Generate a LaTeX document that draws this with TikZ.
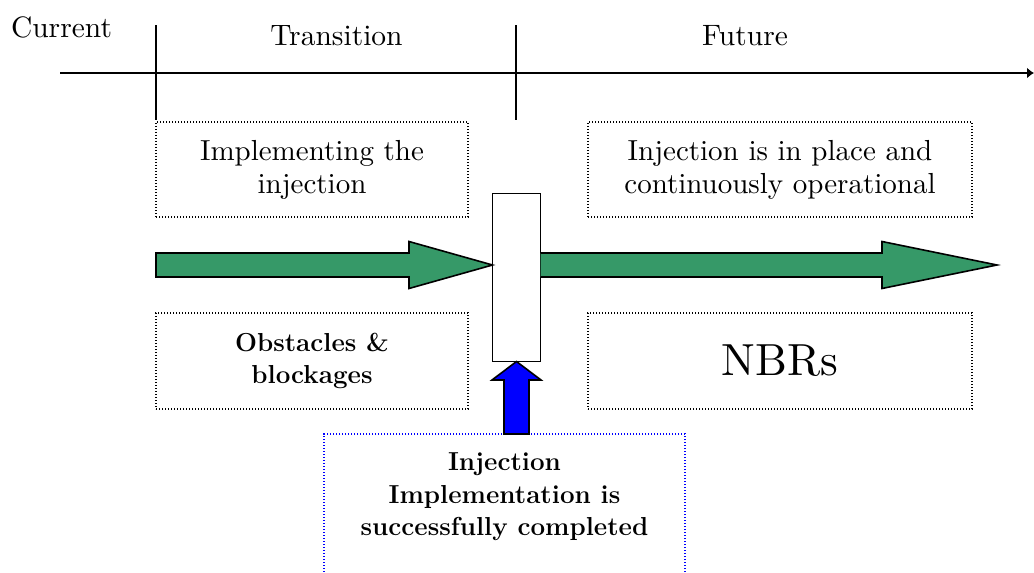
\documentclass[tikz,border=0pt]{standalone}
\usepackage{fontspec}
\setmainfont{lmroman10-regular.otf}[BoldFont=lmroman12-bold.otf]
\usetikzlibrary{arrows.meta,calc}
\definecolor{flowgreen}{RGB}{54,153,104}
\definecolor{pushblue}{RGB}{0,0,255}
\begin{document}
\begin{tikzpicture}[x=1pt,y=-1pt,
  every node/.style={inner sep=0pt,outer sep=0pt},
  lbl/.style={font=\fontsize{29.5}{33}\selectfont},
  boldlbl/.style={font=\fontsize{26}{32.5}\selectfont\bfseries,align=center},
  dotbox/.style={draw=black,line width=1.4pt,dash pattern=on 1.4pt off 1.6pt,
    rectangle,align=center,font=\fontsize{29}{33}\selectfont},
  solidline/.style={line width=1.8pt,draw=black},
  blockarrow/.style={line width=1.6pt,draw=black,line join=miter}]
\useasboundingbox (0,0) rectangle (1034,573);
\clip (0,0) rectangle (1034,573);

% timeline and phase labels
\coordinate (tstart) at (60,73);
\coordinate (tend) at (1034,73);
\draw[solidline,-{Latex[length=7pt,width=11pt]}] (tstart) -- (tend);
\coordinate (tickA top) at (156,25);
\coordinate (tickA bot) at (156,120);
\coordinate (tickB top) at (516,25);
\coordinate (tickB bot) at (516,120);
\draw[solidline] (tickA top) -- (tickA bot);
\draw[solidline] (tickB top) -- (tickB bot);
\node[lbl,anchor=base] (current) at (61.5,37) {Current};
\node[lbl,anchor=base] (transition) at (336.5,45) {Transition};
\node[lbl,anchor=base] (future) at (745,45) {Future};

% description boxes
\node[dotbox,minimum width=312,minimum height=95] (impl) at (312,169.5)
  {Implementing the\\injection};
\node[dotbox,minimum width=384,minimum height=95] (inplace) at (780,169.5)
  {Injection is in place and\\continuously operational};
\node[dotbox,minimum width=312,minimum height=96,font=\fontsize{26}{32.5}\selectfont\bfseries] (obst) at (312,361)
  {Obstacles \&\\blockages};
\node[dotbox,minimum width=384,minimum height=96,font=\fontsize{45}{50}\selectfont] (nbr) at (780,361)
  {NBRs};

% milestone gate
\node[draw=black,line width=1.6pt,fill=white,minimum width=48,minimum height=168] (gate) at (516.5,277.5) {};

% completion box (runs off the lower edge)
\node[draw=pushblue,line width=1.4pt,dash pattern=on 1.4pt off 1.6pt,
  minimum width=361,minimum height=200,anchor=north] (done) at (504.5,434) {};
\node[boldlbl] (donetext) at ($(done.north)+(0,63)$)
  {Injection\\Implementation is\\successfully completed};

% green flow arrows
\coordinate (tipA) at (gate.west |- 0,265);
\draw[blockarrow,fill=flowgreen]
  (156,253) -- (409,253) -- (409,241.5) -- (tipA) -- (409,288.5)
  -- (409,277) -- (156,277) -- cycle;
\draw[blockarrow,fill=flowgreen]
  (gate.east |- 0,253) -- (882,253) -- (882,241.5) -- (997,265)
  -- (882,288.5) -- (882,277) -- (gate.east |- 0,277);

% blue push arrow
\draw[blockarrow,fill=pushblue]
  (504,434) -- (504,380) -- (492,380) -- (gate.south) -- (541,380)
  -- (529,380) -- (529,434) -- cycle;
\end{tikzpicture}
\end{document}
